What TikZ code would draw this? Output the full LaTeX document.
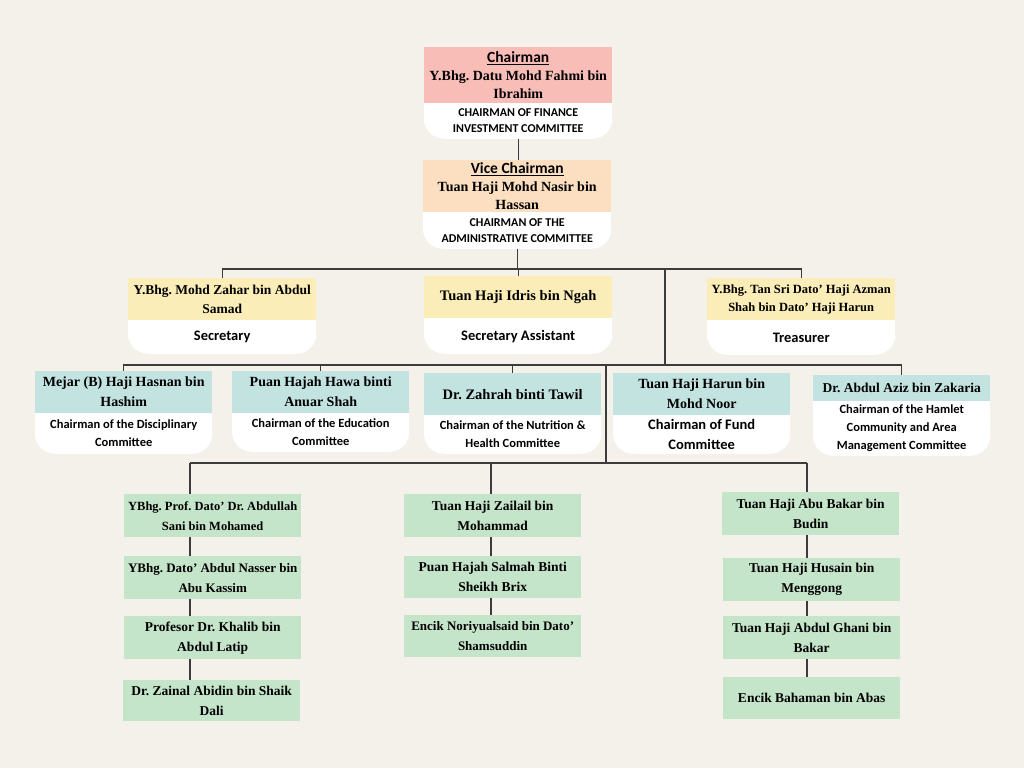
\documentclass[tikz,border=0pt]{standalone}
\usepackage{fontspec}
\setmainfont{Liberation Serif}
\setsansfont{Carlito}
\usetikzlibrary{positioning,backgrounds}
\definecolor{bgbeige}{RGB}{244,240,234}
\definecolor{pinkhead}{RGB}{249,189,183}
\definecolor{peachhead}{RGB}{252,223,192}
\definecolor{yellowhead}{RGB}{250,237,184}
\definecolor{tealhead}{RGB}{195,227,225}
\definecolor{greenbox}{RGB}{197,229,202}
\definecolor{linegray}{RGB}{60,60,60}
\frenchspacing

\begin{document}
\begin{tikzpicture}[
    x=1pt, y=-1pt,
    head/.style={anchor=north west, inner sep=0pt, align=center, font=\bfseries\fontsize{14}{18}\selectfont},
    role/.style={inner sep=0pt, align=center, font=\sffamily\bfseries\fontsize{12.5}{18}\selectfont},
    caprole/.style={role, font=\sffamily\bfseries\fontsize{12}{16}\selectfont},
    bigrole/.style={role, font=\sffamily\bfseries\fontsize{14.5}{20}\selectfont},
    wide/.style={minimum width=188},
    narrow/.style={minimum width=177},
    comm/.style={head, narrow, fill=tealhead, minimum height=42, font=\bfseries\fontsize{14}{20}\selectfont},
    member/.style={head, narrow, fill=greenbox, minimum height=43, font=\bfseries\fontsize{13.5}{20}\selectfont},
    link/.style={draw=linegray, line width=1.2pt}
]
    \begin{scope}[on background layer]
        \fill[bgbeige] (0,0) rectangle (1024,768);
    \end{scope}
    \useasboundingbox (0,0) rectangle (1024,768);

    % chairman and vice chairman
    \node[head, wide, fill=pinkhead, minimum height=56] (chair) at (424,47) {{\sffamily\fontsize{15.5}{18}\selectfont\underline{Chairman}}\\Y.Bhg. Datu Mohd Fahmi bin\\Ibrahim};
    \node[caprole, wide, minimum height=35, below=0pt of chair] (chairR) {CHAIRMAN OF FINANCE\\INVESTMENT COMMITTEE};

    \node[head, wide, fill=peachhead, minimum height=52] (vice) at (423,160) {{\sffamily\fontsize{15.5}{18}\selectfont\underline{Vice Chairman}}\\Tuan Haji Mohd Nasir bin\\Hassan};
    \node[caprole, wide, minimum height=36, below=0pt of vice] (viceR) {CHAIRMAN OF THE\\ADMINISTRATIVE COMMITTEE};

    % officers
    \node[head, wide, fill=yellowhead, minimum height=42, font=\bfseries\fontsize{13.5}{19}\selectfont] (sec) at (128,278) {Y.Bhg. Mohd Zahar bin Abdul\\Samad};
    \node[bigrole, wide, minimum height=33, below=0pt of sec] (secR) {Secretary};

    \node[head, wide, fill=yellowhead, minimum height=42, font=\bfseries\fontsize{14.5}{19}\selectfont] (asst) at (424,276) {Tuan Haji Idris bin Ngah};
    \node[bigrole, wide, minimum height=35, below=0pt of asst] (asstR) {Secretary Assistant};

    \node[head, wide, fill=yellowhead, minimum height=42, font=\bfseries\fontsize{12.5}{18}\selectfont] (treas) at (707,278) {Y.Bhg. Tan Sri Dato' Haji Azman\\Shah bin Dato' Haji Harun};
    \node[bigrole, wide, minimum height=34, below=0pt of treas] (treasR) {Treasurer};

    % committee chairmen
    \node[comm] (mejar) at (35,371) {Mejar (B) Haji Hasnan bin\\Hashim};
    \node[role, narrow, minimum height=40, below=0pt of mejar] (mejarR) {Chairman of the Disciplinary\\Committee};

    \node[comm] (hawa) at (232,371) {Puan Hajah Hawa binti\\Anuar Shah};
    \node[role, narrow, minimum height=38, below=0pt of hawa] (hawaR) {Chairman of the Education\\Committee};

    \node[comm, font=\bfseries\fontsize{14.5}{20}\selectfont] (zahrah) at (424,373) {Dr. Zahrah binti Tawil};
    \node[role, narrow, minimum height=38, below=0pt of zahrah] (zahrahR) {Chairman of the Nutrition \&\\Health Committee};

    \node[comm] (harun) at (613,373) {Tuan Haji Harun bin\\Mohd Noor};
    \node[bigrole, narrow, minimum height=38, below=0pt of harun] (harunR) {Chairman of Fund\\Committee};

    \node[comm, minimum height=26, font=\bfseries\fontsize{13.5}{18}\selectfont] (aziz) at (813,375) {Dr. Abdul Aziz bin Zakaria};
    \node[role, narrow, minimum height=54, below=0pt of aziz] (azizR) {Chairman of the Hamlet\\Community and Area\\Management Committee};

    % members
    \node[member, font=\bfseries\fontsize{12.5}{20}\selectfont] (left1) at (124,494) {YBhg. Prof. Dato' Dr. Abdullah\\Sani bin Mohamed};
    \node[member, font=\bfseries\fontsize{13}{20}\selectfont] (left2) at (124,556) {YBhg. Dato' Abdul Nasser bin\\Abu Kassim};
    \node[member] (left3) at (124,616) {Profesor Dr. Khalib bin\\Abdul Latip};
    \node[member, minimum height=41] (left4) at (123,680) {Dr. Zainal Abidin bin Shaik\\Dali};

    \node[member] (mid1) at (404,494) {Tuan Haji Zailail bin\\Mohammad};
    \node[member, minimum height=42] (mid2) at (404,556) {Puan Hajah Salmah Binti\\Sheikh Brix};
    \node[member, minimum height=42, font=\bfseries\fontsize{13}{20}\selectfont] (mid3) at (404,615) {Encik Noriyualsaid bin Dato'\\Shamsuddin};

    \node[member] (right1) at (722,492) {Tuan Haji Abu Bakar bin\\Budin};
    \node[member] (right2) at (723,558) {Tuan Haji Husain bin\\Menggong};
    \node[member] (right3) at (723,616) {Tuan Haji Abdul Ghani bin\\Bakar};
    \node[member, minimum height=42] (right4) at (723,677) {Encik Bahaman bin Abas};

    % connectors
    \coordinate (busA) at (0,269);
    \coordinate (busB) at (0,365);
    \coordinate (busC) at (0,463);
    \coordinate (dropA) at (665,269);
    \coordinate (dropB) at (606,365);
    \coordinate (colL) at (190,463);
    \coordinate (colM) at (491,463);
    \coordinate (colR) at (807,463);

    \begin{scope}[on background layer]
        \draw[link] (chairR.south) -- (chairR.south |- vice.north);
        \draw[link] (viceR.south) -- (viceR.south |- busA);
        \draw[link] (sec.north) -- (sec.north |- busA) -- (treas.north |- busA) -- (treas.north);
        \draw[link] (asst.north) -- (asst.north |- busA);
        \draw[link] (dropA) -- (dropA |- busB);
        \draw[link] (mejar.north) -- (mejar.north |- busB) -- (aziz.north |- busB) -- (aziz.north);
        \draw[link] (hawa.north) -- (hawa.north |- busB);
        \draw[link] (zahrah.north) -- (zahrah.north |- busB);
        \draw[link] (dropB) -- (dropB |- busC);
        \draw[link] (colL) -- (colR);
        \draw[link] (colL) -- (colL |- left4.north);
        \draw[link] (colM) -- (colM |- mid3.north);
        \draw[link] (colR) -- (colR |- right4.north);
        % white lower halves with rounded bottom corners
        \foreach \r in {chairR,viceR,secR,asstR,treasR,mejarR,hawaR,zahrahR,harunR,azizR}{
            \fill[white, rounded corners=20pt] (\r.north west) rectangle (\r.south east);
            \fill[white] (\r.north west) rectangle (\r.east);
        }
    \end{scope}
\end{tikzpicture}
\end{document}
